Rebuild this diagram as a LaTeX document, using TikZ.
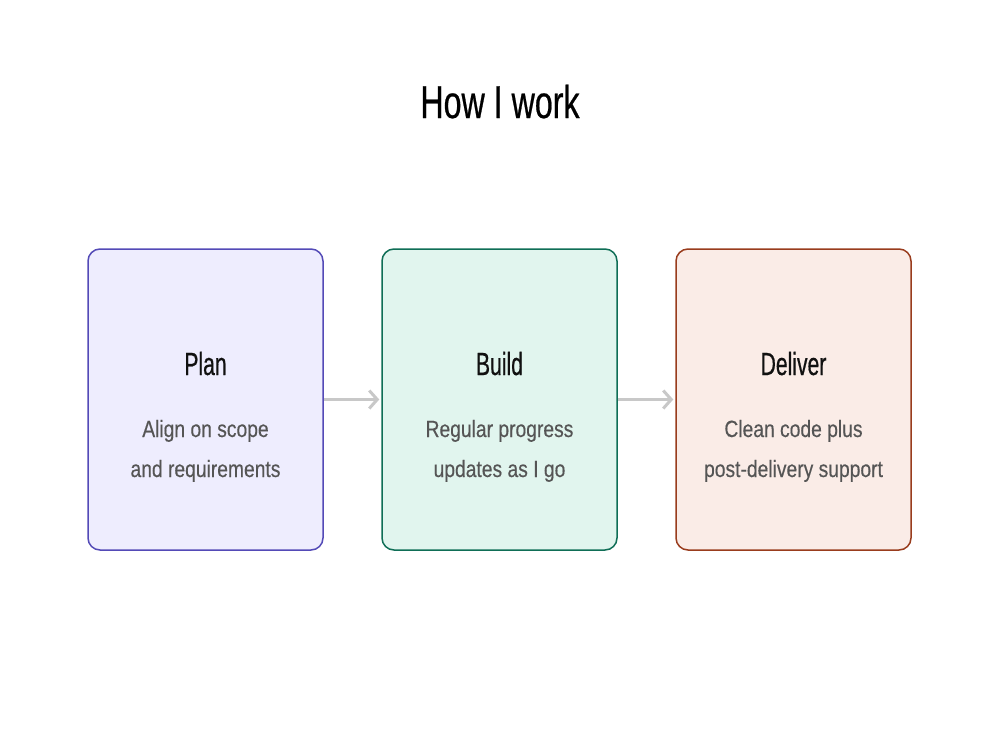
\documentclass[tikz,border=0pt]{standalone}
\usepackage{fontspec}
\setmainfont{Liberation Sans}
\newfontfamily\titlefont[FakeStretch=0.70,FakeBold=0.5]{Liberation Sans}
\newfontfamily\headfont[FakeStretch=0.66,FakeBold=0.5]{Liberation Sans}
\newfontfamily\bodyfont[FakeStretch=0.82,FakeBold=0.3]{Liberation Sans}
\usetikzlibrary{arrows.meta}
\definecolor{planborder}{HTML}{534AB7}
\definecolor{planfill}{HTML}{EEEDFE}
\definecolor{buildborder}{HTML}{0F6E56}
\definecolor{buildfill}{HTML}{E1F5EE}
\definecolor{delborder}{HTML}{993C1D}
\definecolor{delfill}{HTML}{FAECE7}
\definecolor{headtext}{HTML}{111111}
\definecolor{bodytext}{HTML}{555555}
\definecolor{arrowgray}{HTML}{C8C8C8}
\tikzset{
  card/.style={draw, line width=1.5pt, rounded corners=12pt, minimum width=235pt, minimum height=301pt, inner sep=0pt},
  titletext/.style={anchor=base, inner sep=0pt, text=black, font=\titlefont\fontsize{46}{52}\selectfont},
  headtext/.style={anchor=base, inner sep=0pt, text=headtext, font=\headfont\fontsize{32}{38}\selectfont},
  bodytxt/.style={anchor=base, inner sep=0pt, text=bodytext, align=center, font=\bodyfont\fontsize{23.5}{40}\selectfont},
  flow/.style={draw=arrowgray, line width=3pt, -{Straight Barb[length=8pt,width=18pt,line width=3pt]}, shorten >=2pt}
}
\begin{document}
\begin{tikzpicture}[x=1pt,y=-1pt]
\useasboundingbox (0,0) rectangle (1000,750);
\fill[white] (0,0) rectangle (1000,750);
\node[titletext] (title) at (500,118) {How I work};
\node[card, draw=planborder, fill=planfill] (plan) at (205.5,399.5) {};
\node[card, draw=buildborder, fill=buildfill] (build) at (499.5,399.5) {};
\node[card, draw=delborder, fill=delfill] (deliver) at (793.5,399.5) {};
\node[headtext] (planh) at (205.5,375) {Plan};
\node[headtext] (buildh) at (499.5,375) {Build};
\node[headtext] (delh) at (793.5,375) {Deliver};
\node[bodytxt] (planb) at (205.5,477) {Align on scope\\and requirements};
\node[bodytxt] (buildb) at (499.5,477) {Regular progress\\updates as I go};
\node[bodytxt] (delb) at (793.5,477) {Clean code plus\\post-delivery support};
\draw[flow] (plan.east) -- (build.west);
\draw[flow] (build.east) -- (deliver.west);
\end{tikzpicture}
\end{document}
